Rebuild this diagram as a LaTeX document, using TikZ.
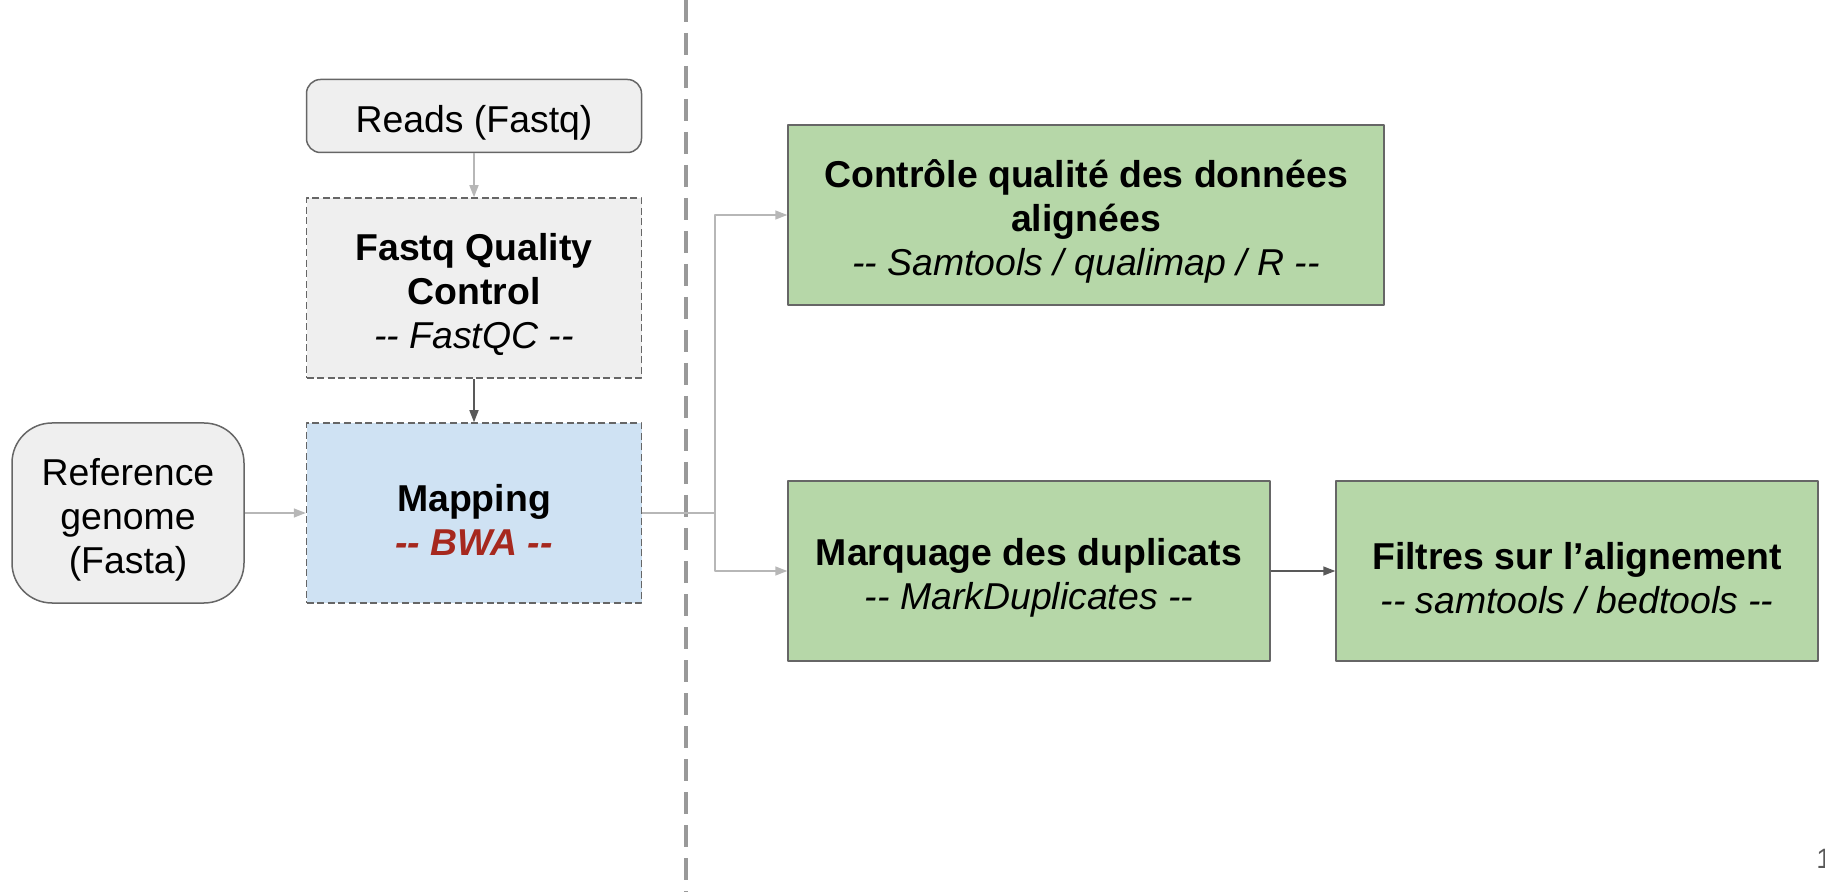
\documentclass[tikz,border=0pt]{standalone}
\usepackage{fontspec}
\setmainfont{Liberation Sans}
\usetikzlibrary{arrows.meta}

\definecolor{boxgrey}{HTML}{EFEFEF}
\definecolor{boxline}{HTML}{666666}
\definecolor{boxblue}{HTML}{CFE2F3}
\definecolor{boxgreen}{HTML}{B6D7A8}
\definecolor{toolred}{HTML}{A6281E}
\definecolor{arrowlite}{HTML}{B7B7B7}
\definecolor{arrowdark}{HTML}{595959}
\definecolor{divider}{HTML}{999999}

\newcommand{\dhy}{-\kern0pt-}
\newcommand{\lift}{\rule{0pt}{20.5pt}}

\begin{document}
\begin{tikzpicture}[line join=round, x=0.5pt, y=-0.5pt,
    every node/.style={font=\fontsize{18.7}{22}\selectfont, align=center, inner sep=0pt},
    box/.style={draw=boxline, line width=0.75pt, minimum height=90pt},
    dashbox/.style={box, dash pattern=on 3.5pt off 1.8pt},
    lite/.style={draw=arrowlite, line width=0.75pt, -{Triangle[length=6pt,width=4.5pt]}},
    dark/.style={lite, draw=arrowdark}]
                \clip (0, 0) rectangle (1825, 892);
                % separator
                \draw[divider, line width=2pt, dash pattern=on 11pt off 5.5pt] (686, 0) -- (686, 892);
                % left part
                \node[box, fill=boxgrey, rounded corners=7pt, minimum width=167.5pt, minimum height=36.5pt] (reads) at (474, 116) {\lift Reads (Fastq)};
                \node[dashbox, fill=boxgrey, minimum width=167.5pt] (fastqc) at (474, 288) {\lift\textbf{Fastq Quality}\\\textbf{Control}\\\textit{\dhy{} FastQC \dhy}};
                \node[dashbox, fill=boxblue, minimum width=167.5pt] (mapping) at (474, 513) {\lift\textbf{Mapping}\\\textcolor{toolred}{\textbf{\textit{\dhy{} BWA \dhy}}}};
                \node[box, fill=boxgrey, rounded corners=20pt, minimum width=116pt] (refgen) at (128, 513) {\lift Reference\\genome\\(Fasta)};
                % right part
                \node[box, fill=boxgreen, minimum width=298pt] (ctrlqual) at (1086, 215) {\lift\textbf{Contrôle qualité des données}\\\textbf{alignées}\\\textit{\dhy{} Samtools / qualimap / R \dhy}};
                \node[box, fill=boxgreen, minimum width=241pt] (markdup) at (1029, 571) {\lift\textbf{Marquage des duplicats}\\\textit{\dhy{} MarkDuplicates \dhy}};
                \node[box, fill=boxgreen, minimum width=241pt] (filters) at (1577, 571) {\lift\textbf{Filtres sur l’alignement}\\\textit{\dhy{} samtools / bedtools \dhy}};
                \coordinate (split) at (715, 513);
                % connectors
                \draw[lite] (reads) -- (fastqc);
                \draw[dark] (fastqc) -- (mapping);
                \draw[lite] (refgen) -- (mapping);
                \draw[draw=arrowlite, line width=0.75pt] (mapping.east) -- (split);
                \draw[lite] (split) |- (ctrlqual.west);
                \draw[lite] (split) |- (markdup.west);
                \draw[dark] (markdup) -- (filters);
                % page number
                \node[anchor=west, text=arrowdark, font=\fontsize{14}{16}\selectfont] (pagenum) at (1816, 859) {1};
            \end{tikzpicture}
\end{document}
